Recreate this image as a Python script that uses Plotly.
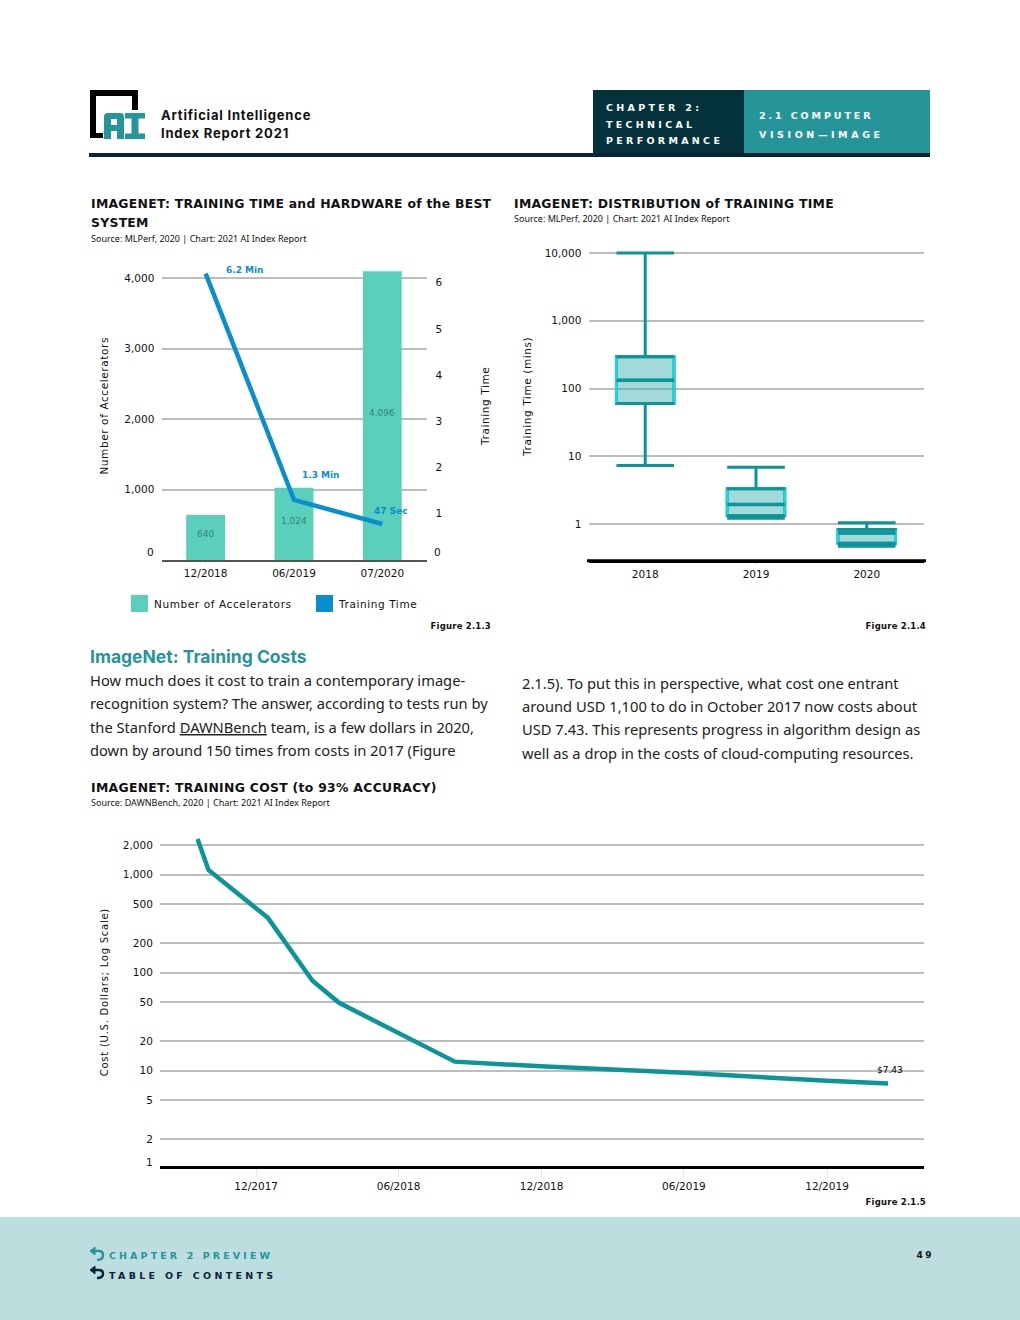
import json
import plotly.graph_objects as go

# ---- Figure 2.1.3
periods = ["12/2018", "06/2019", "07/2020"]
accelerators = [640, 1024, 4096]
accelerator_labels = ["640", "1,024", "4,096"]
training_minutes = [6.2, 1.3, 0.78]

# ---- Figure 2.1.4
box_years = ["2018", "2019", "2020"]
box_positions = [0, 1, 2]
box_low = [7.3, 1.22, 0.47]
box_q1 = [60, 1.33, 0.52]
box_median = [133, 1.95, 0.74]
box_q3 = [295, 3.33, 0.83]
box_high = [10000, 6.9, 1.05]

# ---- Figure 2.1.5
cost_dates = ["2017-09-17", "2017-10-01", "2017-12-16", "2018-02-11", "2018-03-17",
              "2018-08-12", "2018-11-30", "2019-06-01", "2019-12-01", "2020-02-17"]
cost_values = [2307, 1115, 362, 82.6, 49.3, 12.4, 11.1, 9.55, 7.9, 7.43]
cost_ticks = ["2017-12-01", "2018-06-01", "2018-12-01", "2019-06-01", "2019-12-01"]
cost_tick_labels = ["12/2017", "06/2018", "12/2018", "06/2019", "12/2019"]
cost_y_ticks = [2, 5, 10, 20, 50, 100, 200, 500, 1000, 2000]

W, H = 1020, 1320
SANS = "DejaVu Sans"
HEAD = "Inter"
BODY = "Noto Sans"
INK = "#111111"
NAVY = "#0B2237"
TEAL = "#25959A"
LINE_TEAL = "#0B9599"
GRID = "#BDBDBD"
BAR = "#5AD0BC"
BLUE = "#0A8FCE"


def dx(a, b):
    return [a / W, b / W]


def dy(top, bottom):
    return [1 - bottom / H, 1 - top / H]


fig = go.Figure()

# Chart 1
fig.add_bar(x=periods, y=accelerators,
            marker=dict(color=BAR, line_width=0),
            xaxis="x", yaxis="y", showlegend=False, hoverinfo="skip")
fig.add_scatter(x=periods, y=training_minutes, mode="lines",
                line=dict(color=BLUE, width=4.5), xaxis="x", yaxis="y2",
                showlegend=False, hoverinfo="skip")

# Chart 2
fig.add_trace(go.Box(x=box_positions, lowerfence=box_low, q1=box_q1, median=box_median,
                     q3=box_q3, upperfence=box_high, width=0.52, whiskerwidth=1,
                     boxpoints=False, fillcolor="rgba(37,165,168,0.42)",
                     line=dict(color=LINE_TEAL, width=3), xaxis="x2", yaxis="y3",
                     showlegend=False, hoverinfo="skip"))
half = 0.26
for pos, lo, mid, hi in zip(box_positions, box_q1, box_median, box_q3):
    for side in (-half, half):
        fig.add_scatter(x=[pos + side, pos + side], y=[lo, hi], mode="lines",
                        line=dict(color="#22D3DC", width=3), xaxis="x2", yaxis="y3",
                        showlegend=False, hoverinfo="skip")
    for level, thick in ((lo, 3), (mid, 3.5), (hi, 3)):
        fig.add_scatter(x=[pos - half, pos + half], y=[level, level], mode="lines",
                        line=dict(color=LINE_TEAL, width=thick), xaxis="x2", yaxis="y3",
                        showlegend=False, hoverinfo="skip")

# Chart 3
fig.add_scatter(x=cost_dates, y=cost_values, mode="lines",
                line=dict(color=LINE_TEAL, width=4.5), xaxis="x3", yaxis="y4",
                showlegend=False, hoverinfo="skip")

tick_font = dict(family=SANS, size=10.5, color=INK)
grid_axis = dict(showgrid=True, gridcolor=GRID, gridwidth=2, zeroline=False, showline=False,
                 ticks="outside", ticklen=4, tickcolor="rgba(0,0,0,0)", tickfont=tick_font)
base_axis = dict(showgrid=False, zeroline=False, showline=True, ticks="outside", ticklen=2,
                 tickcolor="#E4E4E4", tickfont=tick_font)

fig.update_layout(
    width=W, height=H, autosize=False, margin=dict(l=0, r=0, t=0, b=0, pad=0),
    paper_bgcolor="white", plot_bgcolor="rgba(0,0,0,0)", barmode="overlay", bargap=0.56,
    xaxis=dict(base_axis, domain=dx(161.5, 426.5), anchor="y", linecolor="#555555", linewidth=2,
               categoryorder="array", categoryarray=periods, range=[-0.5, 2.5], type="category"),
    yaxis=dict(grid_axis, domain=dy(264.5, 560), range=[0, 295.5 / 0.0705], anchor="x",
               tickvals=[1000, 2000, 3000, 4000], tickformat=",d"),
    yaxis2=dict(domain=dy(264.5, 560), range=[0, 295.5 / 46.2], overlaying="y", side="right", anchor="x",
                showgrid=False, zeroline=False, ticks="outside", ticklen=6,
                tickcolor="rgba(0,0,0,0)", tickvals=[1, 2, 3, 4, 5, 6], tickfont=tick_font),
    xaxis2=dict(base_axis, domain=dx(588.5, 923.5), anchor="y3", linecolor="black", linewidth=3,
                range=[-0.512, 2.512], tickvals=box_positions, ticktext=box_years),
    yaxis3=dict(grid_axis, domain=dy(245, 560), type="log", range=[-0.53, 4.118], anchor="x2",
                tickvals=[1, 10, 100, 1000, 10000], tickformat=",d"),
    xaxis3=dict(base_axis, domain=dx(160, 924), anchor="y4", linecolor="black", linewidth=3,
                type="date", range=["2017-07-31", "2020-04-03"], tickvals=cost_ticks,
                ticktext=cost_tick_labels, ticklen=8),
    yaxis4=dict(grid_axis, domain=dy(830, 1166), type="log", range=[0.03, 3.454], anchor="x3",
                tickvals=cost_y_ticks, tickformat=",d"),
    # full-page pixel frame for the page furniture
    xaxis4=dict(domain=[0, 1], range=[0, W], visible=False, anchor="y5", fixedrange=True),
    yaxis5=dict(domain=[0, 1], range=[H, 0], visible=False, anchor="x4", fixedrange=True),
)

spacing = {}
notes = []


def note(text, x, y, size, color=INK, anchor="left", weight=400, family=SANS, track=0, angle=0):
    if anchor == "left":
        x -= 1
    notes.append(dict(text=text, x=x, y=y - 1, xref="x4", yref="y5", showarrow=False, xanchor=anchor,
                      yanchor="middle", textangle=angle, align=anchor, borderpad=0,
                      font=dict(family=family, size=size, color=color, weight=weight)))
    if track:
        spacing[text] = track


def rect(x0, y0, x1, y1, color):
    fig.add_shape(type="rect", x0=x0, y0=y0, x1=x1, y1=y1, xref="x4", yref="y5",
                  fillcolor=color, line_width=0, layer="above")


def path(d, fill=None, stroke=None, width=0):
    fig.add_shape(type="path", path=d, xref="x4", yref="y5", layer="above",
                  fillcolor=fill or "rgba(0,0,0,0)",
                  line=dict(color=stroke or "rgba(0,0,0,0)", width=width))


# Header
rect(593, 90, 744, 153, "#04323A")
rect(744, 90, 930, 153, TEAL)
rect(89, 153, 930, 157, NAVY)
path("M90 90 H138 V110 H132 V96 H96 V133 H103 V138 H90 Z", fill="#000000")
path("M104 139 V117 Q104 113 108 113 H120 Q124 113 124 117 V139 H117 V131 H111 V139 Z M111 119 V125 H117 V119 Z",
     fill=TEAL)
path("M125 113 H145 V118.5 H138.5 V133.5 H145 V139 H125 V133.5 H131.5 V118.5 H125 Z", fill=TEAL)
note("Artificial Intelligence", 161, 115.5, 13, weight=700, family=HEAD, track=0.8)
note("Index Report 2021", 161, 133.5, 13, weight=700, family=HEAD, track=0.8)
for text, y in (("CHAPTER 2:", 108), ("TECHNICAL", 125), ("PERFORMANCE", 141)):
    note(text, 606, y, 9.5, "white", weight=700, track=3.3)
note("2.1 COMPUTER", 759, 116, 9.5, "white", weight=700, track=2.9)
note("VISION—IMAGE", 759, 135, 9.5, "white", weight=700, track=3.6)

# Chart 1 texts
note("IMAGENET: TRAINING TIME and HARDWARE of the BEST", 91, 204, 12.4, weight=700, track=0.27)
note("SYSTEM", 91, 223.5, 12.4, weight=700, track=0.27)
note("Source: MLPerf, 2020 | Chart: 2021 AI Index Report", 91, 239, 9, family=BODY)
note("Number of Accelerators", 104, 407, 10.5, anchor="center", angle=-90, track=0.6)
note("Training Time", 485, 408, 10.5, anchor="center", angle=-90, track=0.6)
note("0", 150, 553, 10.5, anchor="center")
note("0", 437, 553, 10.5, anchor="center")
note("6.2 Min", 245, 270.5, 9, BLUE, anchor="center", weight=700)
note("1.3 Min", 321, 475.5, 9, BLUE, anchor="center", weight=700)
note("47 Sec", 391, 511.5, 9, BLUE, anchor="center", weight=700)
rect(131, 595, 148, 612, BAR)
rect(316, 595, 333, 612, BLUE)
note("Number of Accelerators", 154, 605, 10.5, track=0.6)
note("Training Time", 338, 605, 10.5, track=0.6)
note("Figure 2.1.3", 492, 626.5, 8.5, anchor="right", weight=700, track=0.2)

# Bar value labels, in the bars' own data coordinates
for period, value, label in zip(periods, accelerators, accelerator_labels):
    notes.append(dict(text=label, x=period, y=value / 2, xref="x", yref="y", showarrow=False,
                      yshift=3, font=dict(family=SANS, size=9, color="#2E8576")))

# Chart 2 texts
note("IMAGENET: DISTRIBUTION of TRAINING TIME", 514, 204, 12.4, weight=700, track=0.27)
note("Source: MLPerf, 2020 | Chart: 2021 AI Index Report", 514, 219, 9, family=BODY)
note("Training Time (mins)", 527, 398, 10.5, anchor="center", angle=-90, track=0.6)
note("Figure 2.1.4", 927, 626.5, 8.5, anchor="right", weight=700, track=0.2)
rect(587, 559.2, 926, 562.2, "#000000")

# Body copy
note("ImageNet: Training Costs", 90, 657, 17.5, TEAL, weight=700, family=HEAD)
left_copy = ["How much does it cost to train a contemporary image-",
             "recognition system? The answer, according to tests run by",
             "the Stanford <span style=\"text-decoration:underline\">DAWNBench</span> team, is a few dollars in 2020,",
             "down by around 150 times from costs in 2017 (Figure"]
right_copy = ["2.1.5). To put this in perspective, what cost one entrant",
              "around USD 1,100 to do in October 2017 now costs about",
              "USD 7.43. This represents progress in algorithm design as",
              "well as a drop in the costs of cloud-computing resources."]
for line, y in zip(left_copy, [681, 704, 728, 751]):
    note(line, 90, y, 14.7, "#222222", family=BODY)
for line, y in zip(right_copy, [684, 707, 730, 754]):
    note(line, 522, y, 14.7, "#222222", family=BODY)

# Chart 3 texts
note("IMAGENET: TRAINING COST (to 93% ACCURACY)", 91, 788, 12.4, weight=700, track=0.3)
note("Source: DAWNBench, 2020 | Chart: 2021 AI Index Report", 91, 803, 9, family=BODY)
note("Cost (U.S. Dollars; Log Scale)", 104, 993, 10, anchor="center", angle=-90, track=0.75)
note("1", 149.5, 1163, 10.5, anchor="center")
note("$7.43", 890, 1070.5, 9, "#000000", anchor="center")
note("Figure 2.1.5", 927, 1202.5, 8.5, anchor="right", weight=700, track=0.2)

# Footer
rect(0, 1217, W, 1320, "#BDDEDF")
path("M94 1251 H99 Q103 1251 103 1255 Q103 1260 97 1260", stroke=TEAL, width=2.5)
path("M95 1247 L90 1251 L95 1255 Z", fill=TEAL, stroke=TEAL, width=1)
path("M94 1270 H99 Q103 1270 103 1274 Q103 1278 97 1278", stroke=NAVY, width=2.5)
path("M95 1266 L90 1270 L95 1274 Z", fill=NAVY, stroke=NAVY, width=1)
note("CHAPTER 2 PREVIEW", 109, 1256, 9.5, TEAL, weight=700, track=3.1)
note("TABLE OF CONTENTS", 109, 1276, 9.5, NAVY, weight=700, track=3.3)
note("49", 925, 1256, 9, anchor="center", weight=700, track=2.5)

fig.update_layout(annotations=notes)

post = ("document.body.style.margin='0';document.body.style.overflow='hidden';"
        "var sp=" + json.dumps(spacing, ensure_ascii=False) + ";"
        "document.querySelectorAll('.annotation-text').forEach(function(t){"
        "var s=sp[t.textContent];if(s)t.style.letterSpacing=s+'px';});")
fig.write_html("out.html", config=dict(displayModeBar=False), post_script=post)
